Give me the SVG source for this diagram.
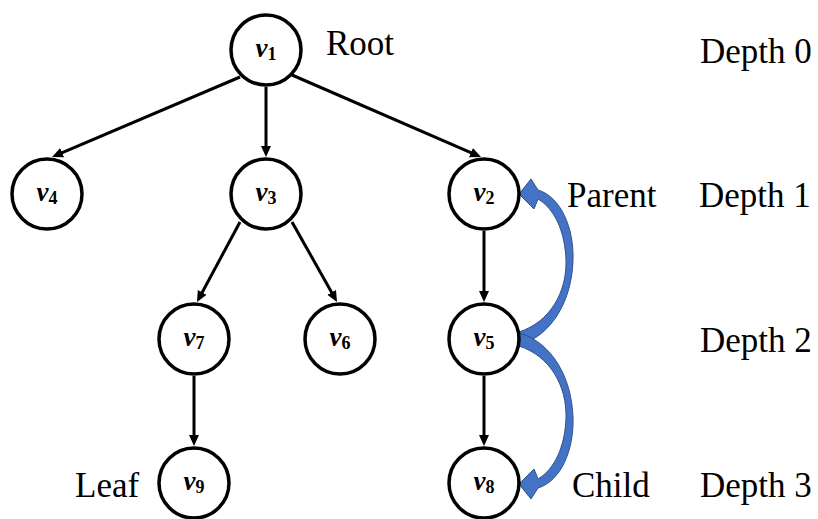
<svg xmlns="http://www.w3.org/2000/svg" width="818" height="519" viewBox="0 0 818 519">
  <style>
    .node circle { fill: #ffffff; stroke: #000000; stroke-width: 3.5; }
    .vname { font-family: "Liberation Serif", "DejaVu Serif", serif; font-style: italic; font-weight: bold; font-size: 27px; fill: #000; }
    .vsub { font-style: normal; font-size: 18px; }
    .lbl { font-family: "Liberation Serif", "Times New Roman", serif; font-size: 35px; fill: #000; }
    .edge { stroke: #000; stroke-width: 3; fill: none; marker-end: url(#head); }
    .bend { fill: #4472C4; stroke: #2F528F; stroke-width: 1; }
  </style>
  <defs>
    <marker id="head" markerUnits="userSpaceOnUse" markerWidth="12" markerHeight="12" refX="3" refY="5" orient="auto">
      <path d="M0,0 L11,5 L0,10 z" fill="#000"/>
    </marker>
    <!-- curved block arrow: tail on the right of the lower node, head at the upper node -->
    <path id="bentArrow" d="M 519 332 C 550 322, 567 292, 566 260 C 565 232, 555 209, 538 199 L 534 209 L 519 194 L 531 179 L 538 190 C 561 197, 574 228, 573 260 C 572 300, 552 336, 519 345 Z"/>
  </defs>

  <!-- tree edges -->
  <g id="edges">
    <line class="edge" x1="240" y1="77" x2="59.4" y2="153.9"/>
    <line class="edge" x1="266" y1="87" x2="266" y2="149"/>
    <line class="edge" x1="292" y1="75" x2="473.7" y2="153.8"/>
    <line class="edge" x1="240" y1="222" x2="200.8" y2="295"/>
    <line class="edge" x1="292" y1="222" x2="333.1" y2="295"/>
    <line class="edge" x1="194" y1="376" x2="194" y2="438"/>
    <line class="edge" x1="484" y1="231" x2="484" y2="294"/>
    <line class="edge" x1="484" y1="376" x2="484" y2="438"/>
  </g>

  <!-- parent / child relation arrows -->
  <g id="relations">
    <use href="#bentArrow" class="bend"/>
    <use href="#bentArrow" class="bend" transform="translate(0,678) scale(1,-1)"/>
  </g>

  <!-- nodes -->
  <g id="v1" class="node"><circle cx="266" cy="50" r="35"/><text class="vname" x="266" y="57" text-anchor="middle">v<tspan class="vsub" dy="3">1</tspan></text></g>
  <g id="v4" class="node"><circle cx="47" cy="194" r="35"/><text class="vname" x="47" y="201" text-anchor="middle">v<tspan class="vsub" dy="3">4</tspan></text></g>
  <g id="v3" class="node"><circle cx="266" cy="194" r="35"/><text class="vname" x="266" y="201" text-anchor="middle">v<tspan class="vsub" dy="3">3</tspan></text></g>
  <g id="v2" class="node"><circle cx="484" cy="194" r="35"/><text class="vname" x="484" y="201" text-anchor="middle">v<tspan class="vsub" dy="3">2</tspan></text></g>
  <g id="v7" class="node"><circle cx="194" cy="339" r="35"/><text class="vname" x="194" y="346" text-anchor="middle">v<tspan class="vsub" dy="3">7</tspan></text></g>
  <g id="v6" class="node"><circle cx="340" cy="339" r="35"/><text class="vname" x="340" y="346" text-anchor="middle">v<tspan class="vsub" dy="3">6</tspan></text></g>
  <g id="v5" class="node"><circle cx="484" cy="339" r="35"/><text class="vname" x="484" y="346" text-anchor="middle">v<tspan class="vsub" dy="3">5</tspan></text></g>
  <g id="v9" class="node"><circle cx="194" cy="483" r="35"/><text class="vname" x="194" y="490" text-anchor="middle">v<tspan class="vsub" dy="3">9</tspan></text></g>
  <g id="v8" class="node"><circle cx="484" cy="483" r="35"/><text class="vname" x="484" y="490" text-anchor="middle">v<tspan class="vsub" dy="3">8</tspan></text></g>

  <!-- labels -->
  <g id="labels">
    <text class="lbl" x="326" y="55">Root</text>
    <text class="lbl" x="567" y="207">Parent</text>
    <text class="lbl" x="75" y="497">Leaf</text>
    <text class="lbl" x="572" y="497">Child</text>
    <text class="lbl" x="700" y="63">Depth 0</text>
    <text class="lbl" x="699" y="207">Depth 1</text>
    <text class="lbl" x="700" y="352">Depth 2</text>
    <text class="lbl" x="700" y="497">Depth 3</text>
  </g>
</svg>
